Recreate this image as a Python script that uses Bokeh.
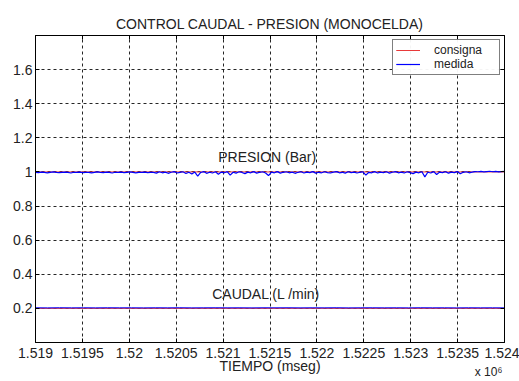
import numpy as np
from bokeh.plotting import figure
from bokeh.models import (Range1d, FixedTicker, Legend, LegendItem, LinearAxis)
from bokeh.core.properties import value
from bokeh.embed import file_html
from bokeh.resources import INLINE

# ---------------- data ----------------
title = "CONTROL CAUDAL - PRESION (MONOCELDA)"
x_axis_label = "TIEMPO (mseg)"
x_scale_label = "x 10⁶"
x_scale_pos = 1523830
x_ticks = [1519000, 1519500, 1520000, 1520500, 1521000, 1521500,
           1522000, 1522500, 1523000, 1523500, 1524000]
x_tick_labels = ["1.519", "1.5195", "1.52", "1.5205", "1.521", "1.5215",
                 "1.522", "1.5225", "1.523", "1.5235", "1.524"]
y_ticks = [0.2, 0.4, 0.6, 0.8, 1.0, 1.2, 1.4, 1.6]
y_tick_labels = ["0.2", "0.4", "0.6", "0.8", "1", "1.2", "1.4", "1.6"]

t_ref = [1519000, 1524000]
pres_consigna = [1.0, 1.0]
caud_consigna = [0.2, 0.2]

pres_medida = [
    0.998, 0.996, 0.999, 0.997, 0.995, 0.998, 1.000, 0.997, 0.996, 0.998,
    0.999, 0.997, 0.994, 0.998, 0.997, 0.999, 0.996, 0.998, 0.997, 0.995,
    0.998, 1.000, 0.997, 0.996, 0.999, 0.997, 0.994, 0.998, 0.997, 0.999,
    0.996, 0.998, 1.000, 0.997, 0.995, 0.998, 0.997, 0.999, 0.996, 0.998,
    0.997, 0.993, 1.001, 0.995, 0.999, 0.992, 0.998, 1.002, 0.994, 0.997,
    1.001, 0.991, 0.998, 0.988, 0.999, 0.975, 0.997, 1.002, 0.992, 0.998,
    0.994, 1.001, 0.987, 0.999, 0.995, 1.002, 0.981, 0.998, 0.993, 1.001,
    0.997, 0.990, 0.999, 0.995, 1.002, 0.993, 0.998, 1.001, 0.994, 0.979,
    0.999, 0.995, 1.002, 0.993, 0.998, 1.001, 0.995, 0.999, 0.992, 0.998,
    1.001, 0.994, 0.999, 0.996, 1.002, 0.993, 0.998, 0.995, 1.001, 0.996,
    0.994, 0.999, 1.002, 0.995, 0.998, 0.993, 1.001, 0.996, 0.999, 0.994,
    0.998, 1.001, 0.981, 0.998, 0.995, 1.002, 0.994, 0.999, 0.996, 1.001,
    0.993, 0.998, 1.002, 0.995, 0.999, 0.994, 1.001, 0.996, 0.990, 0.999,
    0.995, 1.001, 0.971, 0.998, 0.994, 1.002, 0.985, 0.999, 0.996, 1.001,
    0.993, 0.999, 0.996, 1.002, 0.989, 0.998, 1.001, 0.995, 0.999, 1.002,
    1.001, 1.003, 1.000, 1.002, 1.004, 1.001, 1.003, 1.000, 1.002, 1.003,
]
caud_medida = [
    0.2035, 0.2030, 0.2038, 0.2032, 0.2036, 0.2031, 0.2037, 0.2033, 0.2035, 0.2030,
    0.2036, 0.2032, 0.2038, 0.2031, 0.2034, 0.2037, 0.2032, 0.2035, 0.2030, 0.2036,
    0.2033, 0.2037, 0.2031, 0.2035, 0.2032, 0.2038, 0.2030, 0.2034, 0.2036, 0.2032,
    0.2035, 0.2031, 0.2037, 0.2033, 0.2035, 0.2030, 0.2036, 0.2032, 0.2034, 0.2031,
]

t_pres = np.linspace(t_ref[0], t_ref[1], len(pres_medida))
t_caud = np.linspace(t_ref[0], t_ref[1], len(caud_medida))

FONT = "Liberation Sans"
TXT = "#222222"
RED = "#e83a3a"
BLUE = "#0000ff"

p = figure(width=519, height=381, output_backend="svg", toolbar_location=None,
           x_range=Range1d(1519000, 1524000), y_range=Range1d(0, 1.8),
           min_border_left=35, min_border_right=15, min_border_top=35,
           min_border_bottom=39)

p.title.text = title
p.title.align = "center"
p.title.text_font = FONT
p.title.text_font_size = "14px"
p.title.text_font_style = "normal"
p.title.text_color = TXT
p.title.standoff = 8

p.background_fill_color = "white"
p.border_fill_color = "white"
p.outline_line_color = "black"
p.outline_line_width = 1

# grid
for g in (p.xgrid, p.ygrid):
    g.grid_line_color = "black"
    g.grid_line_dash = "3 3"
    g.grid_line_width = 1
    g.grid_line_alpha = 0.85
p.xgrid.ticker = FixedTicker(ticks=x_ticks)
p.ygrid.ticker = FixedTicker(ticks=y_ticks)

# axes
def style_axis(ax, ticks, labels, show_labels=True, standoff=3):
    ax.ticker = FixedTicker(ticks=ticks)
    ax.major_label_overrides = {t: l for t, l in zip(ticks, labels)}
    ax.axis_line_color = "black"
    ax.major_tick_line_color = "black"
    ax.major_tick_in = 4
    ax.major_tick_out = 0
    ax.minor_tick_line_color = None
    ax.major_label_text_font = FONT
    ax.major_label_text_font_size = "14px" if show_labels else "0px"
    ax.major_label_text_color = TXT
    ax.major_label_standoff = standoff if show_labels else 0

style_axis(p.xaxis[0], x_ticks, x_tick_labels, standoff=5)
style_axis(p.yaxis[0], y_ticks, y_tick_labels, standoff=3)
p.xaxis[0].axis_label = x_axis_label
p.xaxis[0].axis_label_text_font = FONT
p.xaxis[0].axis_label_text_font_size = "14px"
p.xaxis[0].axis_label_text_font_style = "normal"
p.xaxis[0].axis_label_text_color = TXT
p.xaxis[0].axis_label_standoff = -3

top_ax = LinearAxis()
right_ax = LinearAxis()
style_axis(top_ax, x_ticks, ["" for _ in x_ticks], show_labels=False)
style_axis(right_ax, y_ticks, ["" for _ in y_ticks], show_labels=False)
p.add_layout(top_ax, "above")
p.add_layout(right_ax, "right")

# second bottom axis only carrying the "x 10^6" multiplier text
scale_ax = LinearAxis()
scale_ax.ticker = FixedTicker(ticks=[x_scale_pos])
scale_ax.major_label_overrides = {x_scale_pos: x_scale_label}
scale_ax.axis_line_color = None
scale_ax.major_tick_line_color = None
scale_ax.minor_tick_line_color = None
scale_ax.major_tick_in = 0
scale_ax.major_tick_out = 0
scale_ax.major_label_standoff = -12
scale_ax.major_label_text_font = FONT
scale_ax.major_label_text_font_size = "12px"
scale_ax.major_label_text_color = TXT
p.add_layout(scale_ax, "below")

# lines
r_pc = p.line(t_ref, pres_consigna, line_color=RED, line_width=1)
r_cc = p.line(t_ref, caud_consigna, line_color=RED, line_width=1)
r_pm = p.line(t_pres, pres_medida, line_color=BLUE, line_width=1.2)
r_cm = p.line(t_caud, caud_medida, line_color=BLUE, line_width=1)

# in-plot labels
p.text(x=[1521470], y=[1.085], text=["PRESION (Bar)"], text_font=value(FONT),
       text_font_size="14px", text_color=TXT, text_align="center",
       text_baseline="middle")
p.text(x=[1521460], y=[0.287], text=["CAUDAL (L /min)"], text_font=value(FONT),
       text_font_size="14px", text_color=TXT, text_align="center",
       text_baseline="middle")

legend = Legend(items=[LegendItem(label="consigna", renderers=[r_pc, r_cc]),
                       LegendItem(label="medida", renderers=[r_pm, r_cm])],
                location="top_right")
legend.label_text_font = FONT
legend.label_text_font_size = "12px"
legend.label_text_color = TXT
legend.glyph_width = 24
legend.glyph_height = 10
legend.label_height = 10
legend.label_width = 62
legend.label_standoff = 14
legend.spacing = 0
legend.padding = 3
legend.margin = 4
legend.border_line_color = "black"
legend.border_line_width = 1
legend.background_fill_color = "white"
p.add_layout(legend, "center")

open("out.html", "w").write(file_html(p, INLINE))
